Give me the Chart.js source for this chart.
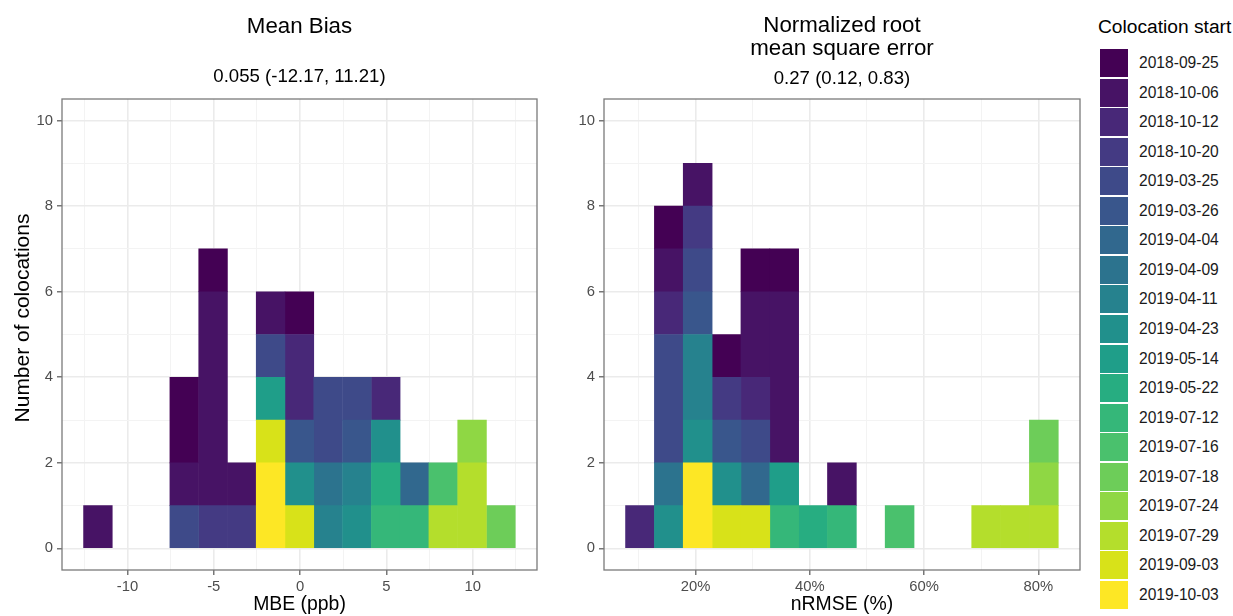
<!DOCTYPE html>
<html>
<head>
<meta charset="utf-8">
<script src="https://cdn.jsdelivr.net/npm/chart.js@4/dist/chart.umd.min.js"></script>
<style>
  body { margin: 0; background: #fff; width: 1233px; height: 616px; overflow: hidden; position: relative;
         font-family: "Liberation Sans", Arial, sans-serif; }
  canvas { position: absolute; top: 0; }
  #mbe { left: 0; }
  #nrmse { left: 548px; }
  #legend-title { position: absolute; left: 1098px; top: 16px; font-size: 19.2px; line-height: 22px; color: #000; white-space: nowrap; }
  .key { position: absolute; left: 1100px; width: 28px; height: 28px; }
  .lab { position: absolute; left: 1139px; height: 28px; line-height: 28px; font-size: 15.6px; color: #1a1a1a; white-space: nowrap; }
</style>
</head>
<body>
<canvas id="mbe" width="548" height="616"></canvas>
<canvas id="nrmse" width="542" height="616"></canvas>
<div id="legend-title">Colocation start</div>
<div id="legend"></div>
<script>
// colocation start dates (fill groups) and their viridis colours
var startDates = ['2018-09-25','2018-10-06','2018-10-12','2018-10-20','2019-03-25','2019-03-26',
                  '2019-04-04','2019-04-09','2019-04-11','2019-04-23','2019-05-14','2019-05-22',
                  '2019-07-12','2019-07-16','2019-07-18','2019-07-24','2019-07-29','2019-09-03','2019-10-03'];
var dateColors = ['#440154','#471365','#482878','#443A83','#3E4A89','#39568C',
                  '#31688E','#2C738E','#26828E','#21908C','#1F9E89','#27AD81',
                  '#35B779','#4AC16D','#6DCD59','#8FD744','#B4DE2C','#D8E219','#FDE725'];

// Mean bias histogram: bin centres (ppb) and the start-date index of each block, bottom to top
var mbeCenters = [-11.71, -10.04, -8.38, -6.71, -5.04, -3.38, -1.71, -0.04, 1.62, 3.29, 4.96, 6.62, 8.29, 9.96, 11.63];
var mbeStacks = [
  [1], [], [],
  [4, 1, 0, 0],
  [3, 1, 1, 1, 1, 1, 0],
  [3, 1],
  [18, 18, 17, 10, 4, 1],
  [17, 9, 5, 2, 2, 0],
  [8, 7, 4, 4],
  [9, 8, 5, 4],
  [12, 11, 9, 2],
  [12, 6],
  [16, 13],
  [16, 16, 15],
  [14]
];

// nRMSE histogram: bin centres (%) and blocks
var nrmseCenters = [10.27, 15.32, 20.37, 25.42, 30.47, 35.52, 40.57, 45.62, 50.67, 55.72, 60.77, 65.82, 70.87, 75.92, 80.97];
var nrmseStacks = [
  [2],
  [9, 7, 4, 4, 4, 2, 1, 0],
  [18, 18, 9, 8, 8, 5, 4, 3, 1],
  [17, 9, 5, 3, 0],
  [17, 6, 4, 2, 1, 1, 0],
  [12, 10, 1, 1, 1, 1, 0],
  [11],
  [12, 1],
  [],
  [13],
  [], [],
  [16],
  [16],
  [16, 15, 14]
];

var yTicks = [0, 2, 4, 6, 8, 10];
var mbeTicks = [-10, -5, 0, 5, 10];
var nrmseTicks = [20, 40, 60, 80];
var yTitle = 'Number of colocations';

var FONT = '"Liberation Sans", Arial, sans-serif';

function buildDatasets(centers, stacks) {
  var sets = [];
  // last level first so it sits at the bottom of each stack (ggplot order)
  for (var d = startDates.length - 1; d >= 0; d--) {
    var pts = [];
    for (var k = 0; k < stacks.length; k++) {
      var n = stacks[k].filter(function(v){ return v === d; }).length;
      if (n > 0) pts.push({x: centers[k], y: n});
    }
    sets.push({
      label: startDates[d],
      data: pts,
      backgroundColor: dateColors[d],
      borderWidth: 0,
      barPercentage: 1,
      categoryPercentage: 1
    });
  }
  return sets;
}

function gridOpts(isMajor) {
  return {
    color: function(c){ return isMajor(c.tick.value) ? '#EBEBEB' : '#F3F3F3'; },
    lineWidth: function(c){ return isMajor(c.tick.value) ? 1.6 : 1; },
    tickColor: function(c){ return isMajor(c.tick.value) ? '#555' : 'rgba(0,0,0,0)'; },
    tickWidth: 1.2,
    tickLength: 5,
    offset: false
  };
}

var panelDecor = {
  id: 'panelDecor',
  afterDraw: function(chart, args, opts) {
    var ctx = chart.ctx, a = chart.chartArea;
    ctx.save();
    ctx.strokeStyle = '#7a7a7a';
    ctx.lineWidth = 1.3;
    ctx.strokeRect(a.left, a.top, a.right - a.left, a.bottom - a.top);
    ctx.fillStyle = '#000';
    ctx.textAlign = 'center';
    ctx.textBaseline = 'middle';
    var cx = (a.left + a.right) / 2;
    opts.lines.forEach(function(l){
      ctx.font = l.size + 'px ' + FONT;
      ctx.fillText(l.text, cx, l.y);
    });
    if (opts.yTitle) {
      ctx.translate(opts.yTitle.x, opts.yTitle.y);
      ctx.rotate(-Math.PI / 2);
      ctx.font = opts.yTitle.size + 'px ' + FONT;
      ctx.fillText(opts.yTitle.text, 0, 0);
    }
    ctx.restore();
  }
};

function makePanel(id, centers, stacks, xr, xStep, xTicks, xFmt, xTitle, yTitleOpts, yWidth, padRight, titleLines) {
  var isMajorX = function(v){ return xTicks.some(function(t){ return Math.abs(t - v) < 1e-6; }); };
  var isMajorY = function(v){ return yTicks.indexOf(v) >= 0; };
  return new Chart(document.getElementById(id), {
    type: 'bar',
    data: { datasets: buildDatasets(centers, stacks) },
    options: {
      responsive: false,
      animation: false,
      layout: { padding: { top: 99, right: padRight, bottom: 0, left: 0 } },
      plugins: {
        legend: { display: false },
        tooltip: { enabled: false },
        panelDecor: { lines: titleLines, yTitle: yTitleOpts }
      },
      scales: {
        x: {
          type: 'linear',
          stacked: true,
          offset: false,
          min: xr[0], max: xr[1],
          border: { display: false },
          grid: gridOpts(isMajorX),
          ticks: {
            stepSize: xStep,
            includeBounds: false,
            autoSkip: false,
            maxRotation: 0,
            padding: 3,
            color: '#4D4D4D',
            font: { family: FONT, size: 14.8 },
            callback: function(v){ return isMajorX(v) ? xFmt(v) : ''; }
          },
          title: { display: true, text: xTitle, color: '#000', font: { family: FONT, size: 19.4 }, padding: { top: 0, bottom: 0 } },
          afterFit: function(s){ s.height = 46; }
        },
        y: {
          type: 'linear',
          stacked: true,
          min: -0.505, max: 10.505,
          border: { display: false },
          grid: gridOpts(isMajorY),
          ticks: {
            stepSize: 1,
            includeBounds: false,
            autoSkip: false,
            padding: 4,
            color: '#4D4D4D',
            font: { family: FONT, size: 14.8 },
            callback: function(v){ return isMajorY(v) ? String(v) : ''; }
          },
          afterFit: function(s){ s.width = yWidth; }
        }
      }
    },
    plugins: [panelDecor]
  });
}

makePanel('mbe', mbeCenters, mbeStacks, [-13.79, 13.72], 2.5, mbeTicks,
  function(v){ return String(v); }, 'MBE (ppb)', { text: yTitle, x: 23, y: 318, size: 21 }, 62, 11,
  [{ text: 'Mean Bias', y: 27, size: 22.3 }, { text: '0.055 (-12.17, 11.21)', y: 77, size: 18.6 }]);

makePanel('nrmse', nrmseCenters, nrmseStacks, [3.97, 87.3], 10, nrmseTicks,
  function(v){ return v + '%'; }, 'nRMSE (%)', null, 56, 10,
  [{ text: 'Normalized root', y: 26, size: 22.3 }, { text: 'mean square error', y: 49, size: 22.3 },
   { text: '0.27 (0.12, 0.83)', y: 79, size: 18.6 }]);

// legend
var legend = document.getElementById('legend');
startDates.forEach(function(d, i){
  var top = 49 + i * 29.55;
  var key = document.createElement('div');
  key.className = 'key';
  key.style.top = top + 'px';
  key.style.background = dateColors[i];
  var lab = document.createElement('div');
  lab.className = 'lab';
  lab.style.top = top + 'px';
  lab.textContent = d;
  legend.appendChild(key);
  legend.appendChild(lab);
});
</script>
</body>
</html>
